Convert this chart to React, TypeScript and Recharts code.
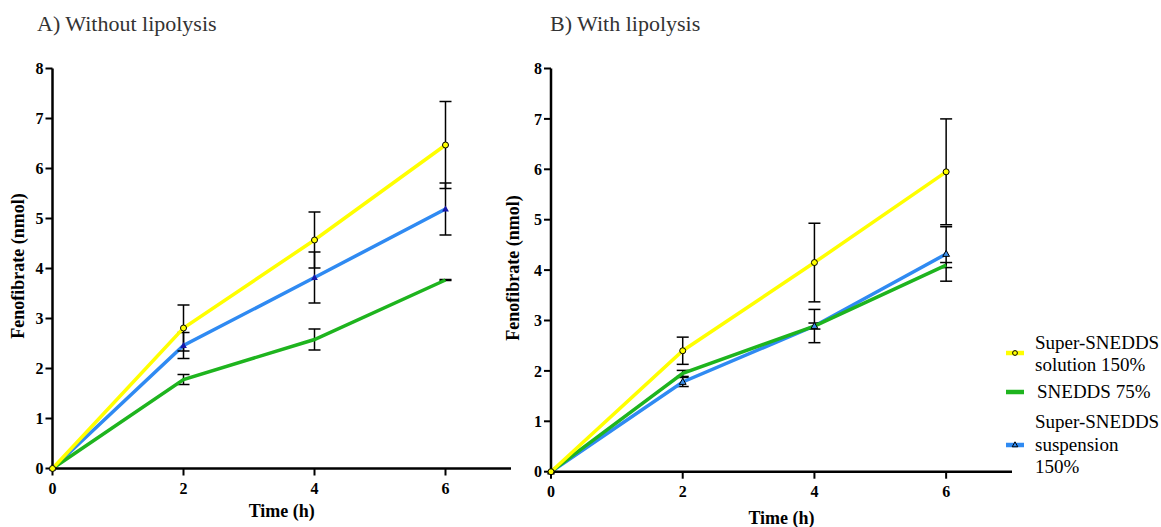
import { LineChart, Line, XAxis, YAxis, ErrorBar, Legend } from "recharts";

const TIMES = [0, 2, 4, 6];
const X_TICKS = [0, 2, 4, 6];
const Y_TICKS = [0, 1, 2, 3, 4, 5, 6, 7, 8];

// A) without lipolysis
const A_SOLUTION = [0, 2.81, 4.57, 6.47];
const A_SOLUTION_SD = [0, 0.46, 0.56, 0.87];
const A_SNEDDS = [0, 1.78, 2.58, 3.77];
const A_SNEDDS_SD = [0, 0.1, 0.21, 0.01];
const A_SUSPENSION = [0, 2.46, 3.82, 5.19];
const A_SUSPENSION_SD = [0, 0.26, 0.51, 0.52];

// B) with lipolysis
const B_SOLUTION = [0, 2.4, 4.15, 5.95];
const B_SOLUTION_SD = [0, 0.27, 0.78, 1.05];
const B_SNEDDS = [0, 1.95, 2.89, 4.1];
const B_SNEDDS_SD = [0, 0.06, 0.06, 0.05];
const B_SUSPENSION = [0, 1.78, 2.89, 4.32];
const B_SUSPENSION_SD = [0, 0.09, 0.33, 0.54];

const YELLOW = "#FFFF00";
const GREEN = "#1EB41E";
const BLUE = "#2F8AF2";
const FONT = "'Liberation Serif', 'Times New Roman', serif";

const buildRows = (
  sol: number[], solSd: number[], sned: number[], snedSd: number[], susp: number[], suspSd: number[],
) =>
  TIMES.map((t, i) => ({
    t,
    sol: sol[i], solErr: solSd[i],
    sned: sned[i], snedErr: snedSd[i],
    susp: susp[i], suspErr: suspSd[i],
  }));

const dataA = buildRows(A_SOLUTION, A_SOLUTION_SD, A_SNEDDS, A_SNEDDS_SD, A_SUSPENSION, A_SUSPENSION_SD);
const dataB = buildRows(B_SOLUTION, B_SOLUTION_SD, B_SNEDDS, B_SNEDDS_SD, B_SUSPENSION, B_SUSPENSION_SD);

const tickStyle = { fill: "#000", fontSize: 16, fontWeight: 700, fontFamily: FONT };

function triangleDot(fill: string, stroke: string) {
  return (props: { cx?: number; cy?: number; index?: number }) => {
    const { cx, cy, index } = props;
    if (cx == null || cy == null) return <g key={`tri-${index}`} />;
    return (
      <path
        key={`tri-${index}`}
        d={`M${cx},${cy - 3.6} L${cx + 3.4},${cy + 2.4} L${cx - 3.4},${cy + 2.4} Z`}
        fill={fill}
        stroke={stroke}
        strokeWidth={stroke === "none" ? 0 : 1}
      />
    );
  };
}

function LegendBox() {
  const text = { fontFamily: FONT, fontSize: 19, lineHeight: "22.5px", color: "#000", whiteSpace: "nowrap" as const };
  const row = { display: "flex", alignItems: "center" } as const;
  return (
    <div style={{ width: 160 }}>
      <div style={{ ...row, height: 45 }}>
        <svg width={18} height={10} style={{ marginRight: 11, marginTop: -3 }}>
          <line x1={0} y1={5} x2={18} y2={5} stroke={YELLOW} strokeWidth={4.5} />
          <circle cx={9} cy={5} r={2.4} fill={YELLOW} stroke="#000" strokeWidth={1} />
        </svg>
        <div style={text}>Super-SNEDDS<br />solution 150%</div>
      </div>
      <div style={{ ...row, height: 22.5, marginTop: 4 }}>
        <svg width={18} height={10} style={{ marginRight: 13 }}>
          <line x1={0} y1={5} x2={18} y2={5} stroke={GREEN} strokeWidth={4.5} />
        </svg>
        <div style={text}>SNEDDS 75%</div>
      </div>
      <div style={{ ...row, height: 67.5, marginTop: 8 }}>
        <svg width={18} height={10} style={{ marginRight: 11 }}>
          <line x1={0} y1={5} x2={18} y2={5} stroke={BLUE} strokeWidth={4.5} />
          <path d="M9,1.8 L11.8,6.8 L6.2,6.8 Z" fill={BLUE} stroke="#000" strokeWidth={1} />
        </svg>
        <div style={text}>Super-SNEDDS<br />suspension<br />150%</div>
      </div>
    </div>
  );
}

interface PanelProps {
  data: ReturnType<typeof buildRows>;
  width: number;
  margin: { top: number; right: number; bottom: number; left: number };
  yAxisWidth: number;
  xLabelY: number;
  yLabelY: number;
  triFill: string;
  triStroke: string;
  showLegend?: boolean;
}

function Panel({ data, width, margin, yAxisWidth, xLabelY, yLabelY, triFill, triStroke, showLegend }: PanelProps) {
  return (
    <LineChart width={width} height={527} data={data} margin={margin}>
      <XAxis
        dataKey="t"
        type="number"
        domain={[0, 7]}
        ticks={X_TICKS}
        interval={0}
        height={30}
        tick={tickStyle}
        tickSize={7}
        tickMargin={7}
        axisLine={{ stroke: "#000", strokeWidth: 2.5 }}
        tickLine={{ stroke: "#000", strokeWidth: 2 }}
        label={(p: { viewBox?: { x: number; width: number } }) => (
          <text
            x={(p.viewBox?.x ?? 0) + (p.viewBox?.width ?? 0) / 2}
            y={xLabelY}
            textAnchor="middle"
            dominantBaseline="central"
            fontFamily={FONT}
            fontWeight={700}
            fontSize={18}
            fill="#000"
          >
            Time (h)
          </text>
        )}
      />
      <YAxis
        type="number"
        domain={[0, 8]}
        ticks={Y_TICKS}
        interval={0}
        width={yAxisWidth}
        tick={tickStyle}
        tickSize={7}
        tickMargin={2}
        axisLine={{ stroke: "#000", strokeWidth: 2.5 }}
        tickLine={{ stroke: "#000", strokeWidth: 2 }}
        label={() => (
          <text
            x={0}
            y={0}
            transform={`translate(18,${yLabelY}) rotate(-90)`}
            textAnchor="middle"
            dominantBaseline="central"
            fontFamily={FONT}
            fontWeight={700}
            fontSize={18}
            fill="#000"
          >
            Fenofibrate (nmol)
          </text>
        )}
      />
      <Line
        type="linear"
        dataKey="susp"
        stroke={BLUE}
        strokeWidth={3.5}
        dot={triangleDot(triFill, triStroke)}
        activeDot={false}
        isAnimationActive={false}
      >
        <ErrorBar dataKey="suspErr" width={6} stroke="#000" strokeWidth={1.5} isAnimationActive={false} />
      </Line>
      <Line
        type="linear"
        dataKey="sned"
        stroke={GREEN}
        strokeWidth={3.5}
        dot={false}
        activeDot={false}
        isAnimationActive={false}
      >
        <ErrorBar dataKey="snedErr" width={6} stroke="#000" strokeWidth={1.5} isAnimationActive={false} />
      </Line>
      <Line
        type="linear"
        dataKey="sol"
        stroke={YELLOW}
        strokeWidth={3.5}
        dot={{ r: 3, fill: YELLOW, stroke: "#000", strokeWidth: 1 }}
        activeDot={false}
        isAnimationActive={false}
      >
        <ErrorBar dataKey="solErr" width={6} stroke="#000" strokeWidth={1.5} isAnimationActive={false} />
      </Line>
      {showLegend && (
        <Legend
          layout="horizontal"
          align="center"
          verticalAlign="middle"
          content={() => <LegendBox />}
          wrapperStyle={{ left: 511, top: 331.5, width: 160 }}
        />
      )}
    </LineChart>
  );
}

const titleStyle = {
  position: "absolute" as const,
  top: 12.8,
  fontFamily: FONT,
  fontSize: 22,
  lineHeight: "22px",
  color: "#333",
  whiteSpace: "nowrap" as const,
};

export default function App() {
  return (
    <div style={{ position: "absolute", left: 0, top: 0, width: 1161, height: 527, background: "#fff", overflow: "hidden" }}>
      <div style={{ position: "absolute", left: 0, top: 0 }}>
        <Panel
          data={dataA}
          width={520}
          margin={{ top: 68.5, right: 9, bottom: 28.5, left: 0 }}
          yAxisWidth={52.5}
          xLabelY={511}
          yLabelY={266}
          triFill="#1818A8"
          triStroke="none"
        />
      </div>
      <div style={{ position: "absolute", left: 495, top: 0 }}>
        <Panel
          data={dataB}
          width={666}
          margin={{ top: 68.5, right: 149, bottom: 25.3, left: 0 }}
          yAxisWidth={56}
          xLabelY={518}
          yLabelY={268}
          triFill="#3C8FE8"
          triStroke="#000"
          showLegend
        />
      </div>
      <div style={{ ...titleStyle, left: 37 }}>A) Without lipolysis</div>
      <div style={{ ...titleStyle, left: 550 }}>B) With lipolysis</div>
    </div>
  );
}
